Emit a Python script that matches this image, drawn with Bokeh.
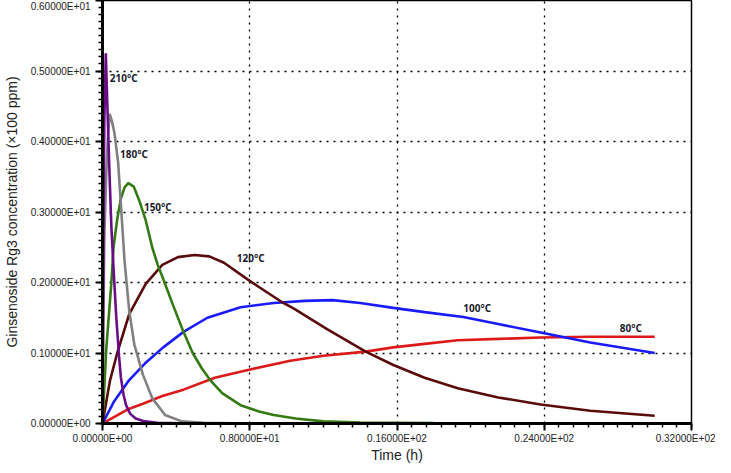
from bokeh.plotting import figure
from bokeh.models import FixedTicker, Range1d, ColumnDataSource, LinearAxis
from bokeh.core.properties import value
from bokeh.embed import file_html
from bokeh.resources import INLINE

# ---- data ----
t_210 = [0, 0.05, 0.1, 0.18, 0.3, 0.4, 0.48, 0.6, 0.75, 0.9, 1.0, 1.15, 1.28, 1.5, 1.8, 2.3, 3.0, 5.0, 10.0, 24.0]
y_210 = [0, 2.66, 4.3, 5.25, 4.2, 3.4, 2.8, 2.2, 1.5, 0.95, 0.65, 0.4, 0.26, 0.14, 0.07, 0.03, 0.01, 0.0, 0.0, 0.0]

t_180 = [0, 0.05, 0.1, 0.2, 0.3, 0.39, 0.5, 0.65, 0.85, 1.0, 1.2, 1.45, 1.73, 2.2, 2.7, 3.4, 4.3, 5.5, 8.0, 15.0, 30.0]
y_180 = [0, 1.5, 2.66, 3.5, 4.1, 4.39, 4.3, 4.12, 3.7, 3.1, 2.3, 1.6, 1.12, 0.69, 0.36, 0.12, 0.03, 0.01, 0.0, 0.0, 0.0]

t_150 = [0, 0.2, 0.48, 0.6, 0.8, 1.0, 1.2, 1.4, 1.7, 2.0, 2.35, 2.7, 3.0, 3.3, 3.8, 4.4, 4.9, 5.4, 5.9, 6.5, 7.5, 8.5, 9.3, 10.5, 12.0, 14.0, 18.0, 24.0, 30.0]
y_150 = [0, 1.04, 1.99, 2.5, 2.9, 3.19, 3.35, 3.41, 3.36, 3.16, 2.88, 2.5, 2.25, 2.05, 1.7, 1.3, 1.0, 0.78, 0.6, 0.43, 0.26, 0.17, 0.12, 0.07, 0.03, 0.015, 0.005, 0.0, 0.0]

t_120 = [0, 0.4, 0.8, 1.45, 2.35, 3.25, 4.1, 5.0, 5.8, 6.6, 7.9, 9.7, 10.4, 12.2, 14.3, 15.8, 17.5, 19.3, 21.5, 23.8, 26.5, 30.0]
y_120 = [0, 0.6, 1.0, 1.55, 1.98, 2.25, 2.36, 2.39, 2.37, 2.28, 2.04, 1.73, 1.63, 1.34, 1.02, 0.83, 0.65, 0.50, 0.37, 0.27, 0.18, 0.11]

t_100 = [0, 0.6, 1.4, 2.3, 3.3, 4.4, 5.7, 7.5, 9.3, 11.0, 12.5, 14.0, 15.8, 17.5, 19.6, 21.5, 23.8, 26.5, 30.0]
y_100 = [0, 0.3, 0.6, 0.85, 1.08, 1.3, 1.5, 1.65, 1.71, 1.74, 1.75, 1.71, 1.64, 1.58, 1.51, 1.41, 1.29, 1.15, 1.0]

t_80 = [0, 1.45, 2.2, 3.25, 4.4, 6.1, 7.9, 10.2, 12.0, 14.3, 15.8, 17.5, 19.3, 21.5, 23.8, 26.5, 30.0]
y_80 = [0, 0.21, 0.28, 0.39, 0.48, 0.65, 0.76, 0.89, 0.96, 1.02, 1.08, 1.13, 1.18, 1.20, 1.22, 1.23, 1.23]

curve_labels = ["210\u00b0C", "180\u00b0C", "150\u00b0C", "120\u00b0C", "100\u00b0C", "80\u00b0C"]
label_x = [0.4, 0.95, 2.25, 7.3, 19.6, 28.1]
label_y = [4.9, 3.82, 3.07, 2.35, 1.64, 1.35]

x_ticks = [0, 8, 16, 24, 32]
x_tick_labels = ["0.00000E+00", "0.80000E+01", "0.16000E+02", "0.24000E+02", "0.32000E+02"]
y_ticks = [0, 1, 2, 3, 4, 5, 6]
y_tick_labels = ["0.00000E+00", "0.10000E+01", "0.20000E+01", "0.30000E+01",
                 "0.40000E+01", "0.50000E+01", "0.60000E+01"]
x_title = "Time (h)"
y_title = "Ginsenoside Rg3 concentration (\u00d7100 ppm)"

# ---- figure ----
p = figure(width=715, height=465, x_range=Range1d(0, 32), y_range=Range1d(0, 6),
           output_backend="svg", toolbar_location=None,
           x_axis_location=None, y_axis_location=None,
           min_border_left=97, min_border_right=24, min_border_top=0, min_border_bottom=40)
p.outline_line_color = "black"
p.outline_line_width = 1.5


def make_axis(ticks, minor, labels, title, label_standoff, title_standoff):
    return LinearAxis(
        ticker=FixedTicker(ticks=ticks, minor_ticks=minor),
        major_label_overrides={k: v for k, v in zip(ticks, labels)},
        axis_label=title,
        axis_line_color="#000000", axis_line_width=3,
        major_tick_line_color="#000000", major_tick_line_width=2,
        minor_tick_line_color="#000000", minor_tick_line_width=1.5,
        major_tick_in=0, major_tick_out=7, minor_tick_in=0, minor_tick_out=4,
        major_label_text_font="Liberation Sans", major_label_text_font_size="10px",
        major_label_text_color="#222222", major_label_standoff=label_standoff,
        axis_label_text_font="Liberation Sans", axis_label_text_font_size="14px",
        axis_label_text_font_style="normal", axis_label_text_color="#222222",
        axis_label_standoff=title_standoff,
    )


xaxis = make_axis(x_ticks, [i * 0.8 for i in range(0, 41)], x_tick_labels, x_title, 2, 0)
yaxis = make_axis(y_ticks, [i / 10 for i in range(0, 61)], y_tick_labels, y_title, 5, 8)
p.add_layout(xaxis, "below")
p.add_layout(yaxis, "left")

# grid
p.xgrid.ticker = FixedTicker(ticks=x_ticks[1:-1])
p.ygrid.ticker = FixedTicker(ticks=y_ticks[1:-1])
for g in (p.xgrid, p.ygrid):
    g.grid_line_color = "black"
    g.grid_line_dash = "2 5"
    g.grid_line_width = 1.3

# curves
series = [
    (t_80, y_80, "#dd1a1a"),
    (t_100, y_100, "#1a1aff"),
    (t_120, y_120, "#5a0a0a"),
    (t_150, y_150, "#347a12"),
    (t_180, y_180, "#808080"),
    (t_210, y_210, "#680c88"),
]
for tx, ty, col in series:
    p.line(tx, ty, line_color=col, line_width=2.6)

src = ColumnDataSource(dict(x=label_x, y=label_y, text=curve_labels))
p.text(x="x", y="y", text="text", source=src, text_font=value("Noto Sans"),
       text_font_size="10px", text_font_style="bold", text_color="#1a1a2a",
       text_baseline="middle", text_align="left")

open("out.html", "w").write(file_html(p, INLINE))
